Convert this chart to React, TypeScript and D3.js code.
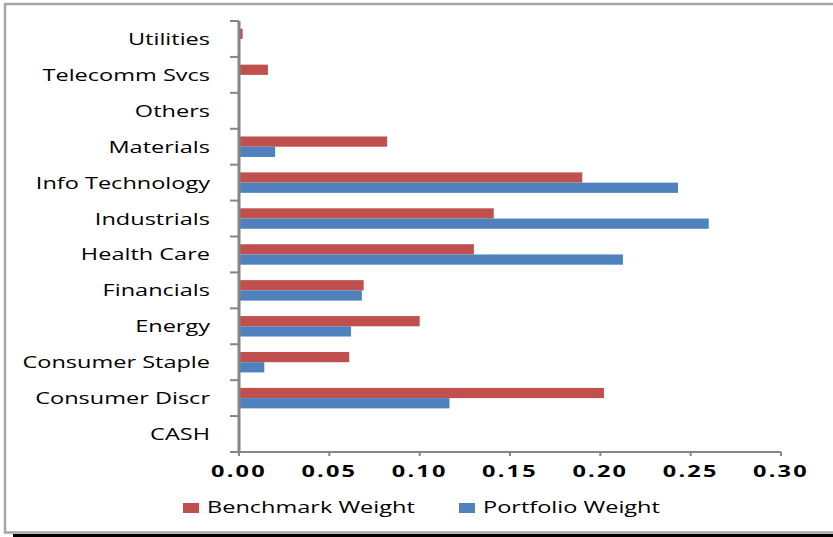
import React from "react";
import * as d3 from "d3";

const categories = [
  "Utilities",
  "Telecomm Svcs",
  "Others",
  "Materials",
  "Info Technology",
  "Industrials",
  "Health Care",
  "Financials",
  "Energy",
  "Consumer Staple",
  "Consumer Discr",
  "CASH",
];
const benchmarkWeight = [0.002, 0.016, 0, 0.082, 0.19, 0.141, 0.13, 0.069, 0.1, 0.061, 0.202, 0];
const portfolioWeight = [0, 0, 0, 0.02, 0.243, 0.26, 0.2125, 0.068, 0.062, 0.014, 0.1165, 0];
const xTicks = [0, 0.05, 0.1, 0.15, 0.2, 0.25, 0.3];
const seriesNames = ["Benchmark Weight", "Portfolio Weight"];
const seriesColors = ["#c0504d", "#4f81bd"];

const W = 833;
const H = 537;
const margin = { top: 21, left: 239, right: 52, bottom: 85 };
const font = "'Open Sans', sans-serif";
const sx = 1.47; // horizontal text stretch seen in the picture

const App = () => {
  const x = d3
    .scaleLinear()
    .domain([0, 0.3])
    .range([margin.left, W - margin.right]);

  const y = d3
    .scaleBand()
    .domain(categories)
    .range([margin.top, H - margin.bottom])
    .paddingInner(0.43)
    .paddingOuter(0.215);

  const inner = d3.scaleBand().domain(seriesNames).range([0, y.bandwidth()]);

  const bottom = H - margin.bottom;
  const step = y.step();
  const boundaries = d3.range(categories.length + 1).map((i) => margin.top + i * step);

  const series = [benchmarkWeight, portfolioWeight];

  return (
    <svg
      width={W}
      height={H}
      style={{ position: "absolute", left: 0, top: 0, background: "#fff" }}
      fontFamily={font}
    >
      {/* frame */}
      <rect x={5} y={4} width={W + 10} height={528.5} fill="#fff" stroke="#a6a6a6" strokeWidth={2.5} />
      <line x1={13} x2={W} y1={535.5} y2={535.5} stroke="#000" strokeWidth={3} />

      {/* bars */}
      {categories.map((c, i) => (
        <g key={c}>
          {series.map((s, j) =>
            s[i] > 0 ? (
              <rect
                key={j}
                x={x(0)}
                y={(y(c) as number) + (inner(seriesNames[j]) as number)}
                width={x(s[i]) - x(0)}
                height={inner.bandwidth()}
                fill={seriesColors[j]}
              />
            ) : null
          )}
        </g>
      ))}

      {/* y axis */}
      <line x1={margin.left} x2={margin.left} y1={margin.top} y2={bottom} stroke="#868686" strokeWidth={3} />
      {boundaries.map((b, i) => (
        <line key={i} x1={margin.left - 9} x2={margin.left} y1={b} y2={b} stroke="#868686" strokeWidth={2} />
      ))}
      {categories.map((c) => (
        <text
          key={c}
          transform={`translate(210,${(y(c) as number) + y.bandwidth() / 2}) scale(${sx},1)`}
          textAnchor="end"
          dominantBaseline="central"
          fontSize={16}
          fill="#000"
        >
          {c}
        </text>
      ))}

      {/* x axis */}
      <line x1={margin.left - 9} x2={x(0.3)} y1={bottom} y2={bottom} stroke="#868686" strokeWidth={2} />
      {xTicks.map((t) => (
        <g key={t}>
          <line x1={x(t)} x2={x(t)} y1={bottom} y2={bottom + 4} stroke="#868686" strokeWidth={2} />
          <text
            transform={`translate(${x(t)},${bottom + 25}) scale(${sx},1)`}
            textAnchor="middle"
            fontSize={16}
            fontWeight="bold"
            letterSpacing={1.5}
            fill="#000"
          >
            {d3.format(".2f")(t)}
          </text>
        </g>
      ))}

      {/* legend */}
      {seriesNames.map((n, j) => {
        const lx = j === 0 ? 183 : 459;
        return (
          <g key={n}>
            <rect x={lx} y={503} width={16} height={10} fill={seriesColors[j]} />
            <text
              transform={`translate(${lx + 24},${513}) scale(${sx},1)`}
              fontSize={16}
              fill="#000"
            >
              {n}
            </text>
          </g>
        );
      })}
    </svg>
  );
};

export default App;
